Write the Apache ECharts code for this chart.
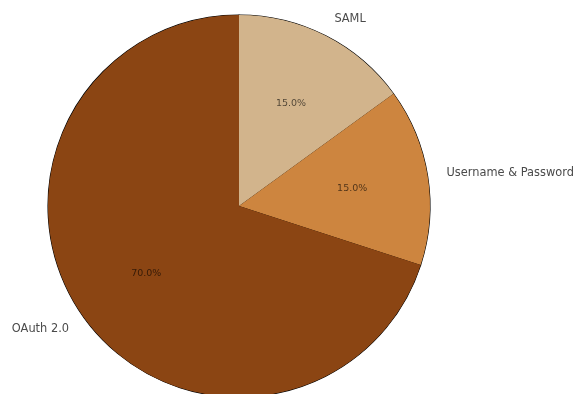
<!DOCTYPE html>
<html>
<head>
<meta charset="utf-8">
<script src="https://cdn.jsdelivr.net/npm/echarts@6/dist/echarts.min.js"></script>
<style>html,body{margin:0;padding:0;background:#fff}#c{width:574px;height:394px}</style>
</head>
<body>
<div id="c"></div>
<script>
var categories = ['SAML', 'Username & Password', 'OAuth 2.0'];
var values = [15, 15, 70];
var colors = ['#D2B48C', '#CD853F', '#8B4513'];

var CX = 239, CY = 206, R = 191;
var total = values.reduce(function (a, b) { return a + b; }, 0);
function midAngle(i) {
  var before = 0;
  for (var k = 0; k < i; k++) before += values[k];
  var mid = before + values[i] / 2;
  return (90 - mid / total * 360) * Math.PI / 180;
}
var data = categories.map(function (n, i) {
  return { name: n, value: values[i], itemStyle: { color: colors[i] } };
});

var chart = echarts.init(document.getElementById('c'), null, { renderer: 'canvas' });
chart.setOption({
  animation: false,
  series: [
    {
      type: 'pie',
      center: [CX, CY],
      radius: R,
      startAngle: 90,
      clockwise: true,
      avoidLabelOverlap: false,
      data: data,
      itemStyle: { borderColor: '#000', borderWidth: 1.1 },
      emphasis: { disabled: true },
      labelLine: { show: false },
      label: {
        show: true,
        formatter: '{b}',
        fontFamily: 'DejaVu Sans',
        fontSize: 11.4,
        color: '#4a4a4a'
      },
      labelLayout: function (p) {
        var a = midAngle(p.dataIndex);
        var x = CX + 1.1 * R * Math.cos(a);
        var y = CY - 1.1 * R * Math.sin(a);
        return { x: x, y: y, align: Math.cos(a) >= 0 ? 'left' : 'right', verticalAlign: 'middle' };
      }
    },
    {
      type: 'pie',
      center: [CX, CY],
      radius: R,
      startAngle: 90,
      clockwise: true,
      silent: true,
      avoidLabelOverlap: false,
      data: data,
      itemStyle: { color: 'transparent', borderWidth: 0 },
      emphasis: { disabled: true },
      labelLine: { show: false },
      label: {
        show: true,
        formatter: function (p) { return p.value.toFixed(1) + '%'; },
        fontFamily: 'DejaVu Sans',
        fontSize: 9.5,
        color: 'rgba(0,0,0,0.62)'
      },
      labelLayout: function (p) {
        var a = midAngle(p.dataIndex);
        return { x: CX + 0.6 * R * Math.cos(a), y: CY - 0.6 * R * Math.sin(a), align: 'center', verticalAlign: 'middle' };
      }
    }
  ]
});
</script>
</body>
</html>
